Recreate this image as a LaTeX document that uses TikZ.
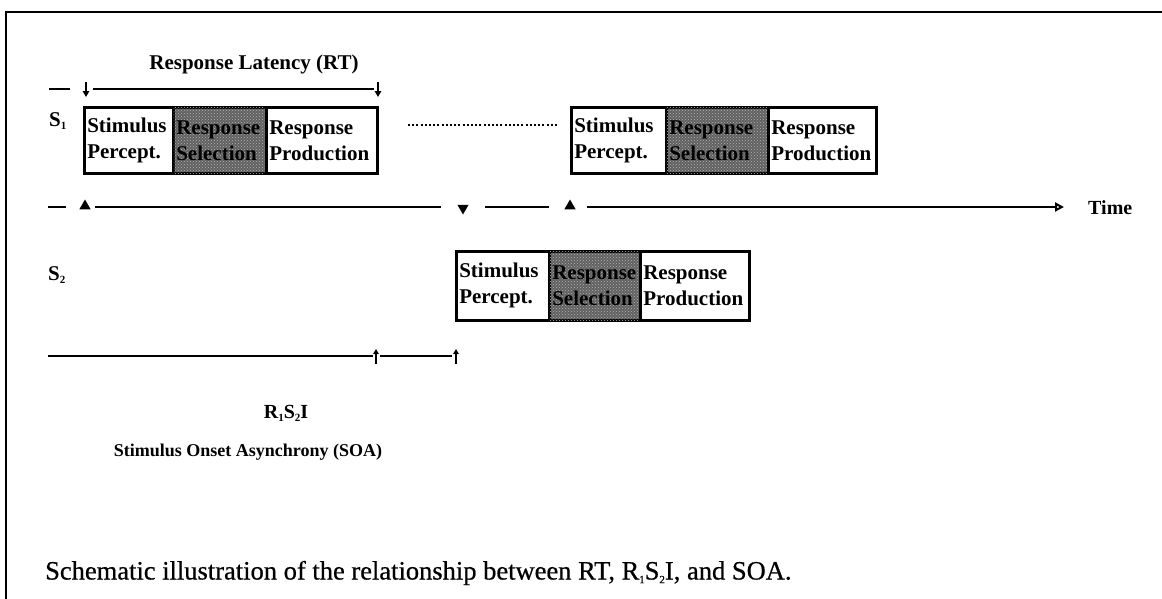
\documentclass[tikz,border=0pt]{standalone}
\usepackage{fontspec}
\setmainfont{Liberation Serif}
\usetikzlibrary{arrows.meta,shapes.geometric,patterns}
\newcommand\mysub[1]{\raisebox{-0.3ex}{\fontsize{11}{11}\selectfont #1}}
\newcommand\bfa{\fontsize{21}{26}\selectfont\bfseries}
\begin{document}
\begin{tikzpicture}[x=1pt,y=-1pt,
  frame/.style={line width=2.6pt},
  axis/.style={line width=2pt},
  cell/.style={draw, line width=2.6pt, anchor=north west, inner sep=3pt, align=left,
    font=\bfa},
  shaded/.style={fill=black!62, postaction={pattern={crosshatch dots}, pattern color=white!70!black}},
  lbl/.style={inner sep=0pt, font=\bfa},
  triup/.style={regular polygon, regular polygon sides=3, fill=black, inner sep=0pt, minimum size=13pt},
  tridown/.style={triup, shape border rotate=180},
  dnarrow/.style={line width=1.6pt, -{Triangle[length=6pt,width=6.5pt]}},
  uparrow/.style={line width=1.6pt, -{Triangle[length=5pt,width=5.5pt]}},
]
\useasboundingbox (0,0) rectangle (1162,598);
\fill[white] (0,0) rectangle (1162,598);

% frame
\coordinate (frTR) at (1165,12);
\coordinate (frTL) at (6,12);
\coordinate (frBL) at (6,600);
\draw[frame] (frTR) -- (frTL) -- (frBL);

% title
\node[lbl] (rt) at (254,64) {Response Latency (RT)};

% RT line
\coordinate (rd0) at (49,89); \coordinate (rd1) at (70,89);
\draw[axis] (rd0) -- (rd1);
\coordinate (ra1t) at (86,82); \coordinate (ra1b) at (86,97);
\draw[dnarrow] (ra1t) -- (ra1b);
\coordinate (rl0) at (93,89); \coordinate (rl1) at (374,89);
\draw[axis] (rl0) -- (rl1);
\coordinate (ra2t) at (378,82); \coordinate (ra2b) at (378,97);
\draw[dnarrow] (ra2t) -- (ra2b);

% S1
\node[lbl, anchor=west] (s1) at (49,121) {S\mysub{1}};

% Box 1
\node[cell, minimum width=89pt, minimum height=66pt, text width=83pt] (b1a) at (83,106) {Stimulus\\Percept.};
\node[cell, shaded, minimum width=93pt, minimum height=66pt, text width=87pt] (b1b) at (172,106) {Response\\Selection};
\node[cell, minimum width=111pt, minimum height=66pt, text width=105pt] (b1c) at (265,106) {Response\\Production};

% dotted
\coordinate (dt0) at (408,125); \coordinate (dt1) at (557,125);
\draw[line width=1.8pt, dash pattern=on 2pt off 2.2pt] (dt0) -- (dt1);

% Box 2
\node[cell, minimum width=95pt, minimum height=66pt, text width=89pt] (b2a) at (570,106) {Stimulus\\Percept.};
\node[cell, shaded, minimum width=102pt, minimum height=66pt, text width=96pt] (b2b) at (665,106) {Response\\Selection};
\node[cell, minimum width=108pt, minimum height=66pt, text width=102pt] (b2c) at (767,106) {Response\\Production};

% time axis
\coordinate (td0) at (48,207); \coordinate (td1) at (66,207);
\draw[axis] (td0) -- (td1);
\node[triup] (m1) at (85,206) {};
\coordinate (tl0) at (95,207); \coordinate (tl1) at (441,207);
\draw[axis] (tl0) -- (tl1);
\node[tridown] (m2) at (463,208) {};
\coordinate (tl2) at (485,207); \coordinate (tl3) at (549,207);
\draw[axis] (tl2) -- (tl3);
\node[triup] (m3) at (570,206) {};
\coordinate (tl4) at (587,207); \coordinate (tip) at (1064,207);
\draw[axis, -{Triangle[open,length=9pt,width=9pt]}] (tl4) -- (tip);
\node[lbl, anchor=west, font=\fontsize{20}{24}\selectfont\bfseries] (time) at (1088,208) {Time};

% S2
\node[lbl, anchor=west] (s2) at (48,275) {S\mysub{2}};

% Box 3
\node[cell, minimum width=93pt, minimum height=69pt, text width=87pt] (b3a) at (455,250) {Stimulus\\Percept.};
\node[cell, shaded, minimum width=91pt, minimum height=69pt, text width=85pt] (b3b) at (548,250) {Response\\Selection};
\node[cell, minimum width=109pt, minimum height=69pt, text width=103pt] (b3c) at (639,250) {Response\\Production};

% lower line
\coordinate (ll0) at (48,356); \coordinate (ll1) at (373,356);
\draw[axis] (ll0) -- (ll1);
\coordinate (ua1b) at (376,364); \coordinate (ua1t) at (376,349);
\draw[uparrow] (ua1b) -- (ua1t);
\coordinate (ll2) at (380,356); \coordinate (ll3) at (452,356);
\draw[axis] (ll2) -- (ll3);
\coordinate (ua2b) at (456,364); \coordinate (ua2t) at (456,349);
\draw[uparrow] (ua2b) -- (ua2t);

% labels
\node[lbl, font=\fontsize{20}{24}\selectfont\bfseries] (rsi) at (286,413) {R\mysub{1}S\mysub{2}I};
\node[lbl, font=\fontsize{18}{22}\selectfont\bfseries] (soa) at (248,452) {Stimulus Onset Asynchrony (SOA)};

% caption
\node[inner sep=0pt, anchor=west, font=\fontsize{26.5}{30}\selectfont\addfontfeature{FakeBold=0.6}] (cap) at (45,573)
  {Schematic illustration of the relationship between RT, R\mysub{1}S\mysub{2}I, and SOA.};
\end{tikzpicture}
\end{document}
